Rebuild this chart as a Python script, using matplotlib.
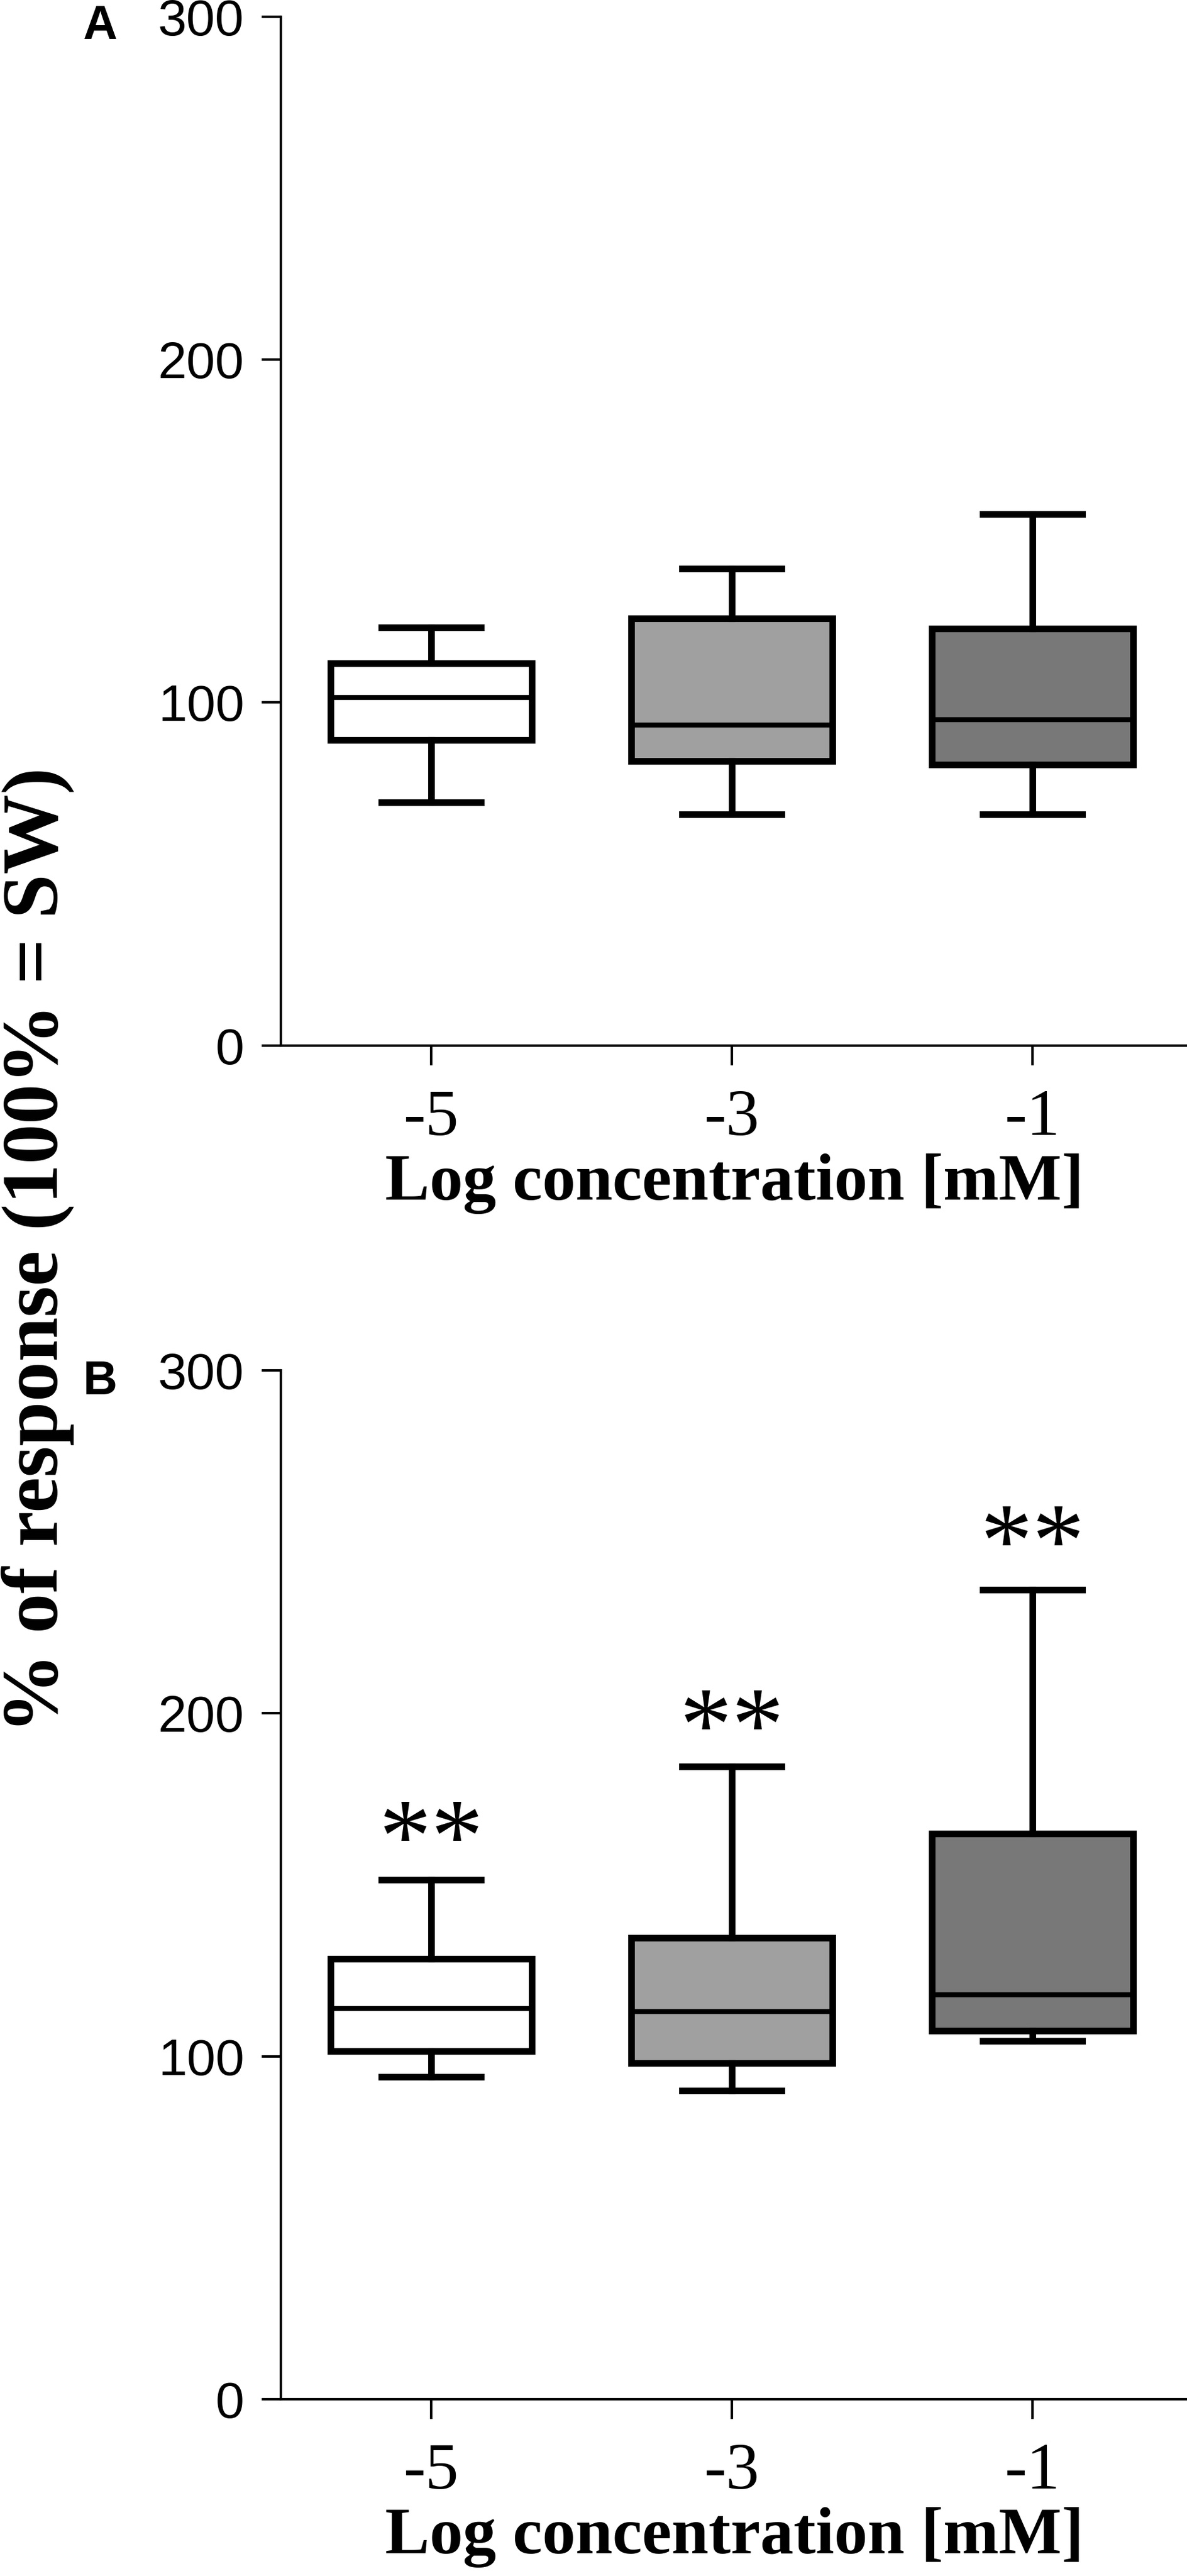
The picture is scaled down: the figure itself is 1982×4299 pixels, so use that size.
import matplotlib.pyplot as plt

# categories and fills
categories = ['-5', '-3', '-1']
fill_colors = ['#ffffff', '#a0a0a0', '#787878']

# panel A: box statistics (% of response)
a_whislo = [71, 67.5, 67.5]
a_q1 = [89, 83, 82]
a_med = [101.5, 93.5, 95]
a_q3 = [111.5, 124.5, 121.5]
a_whishi = [122, 139, 155]

# panel B: box statistics (% of response)
b_whislo = [94, 90, 104.5]
b_q1 = [101.5, 98, 107.5]
b_med = [114, 113, 118]
b_q3 = [128.5, 134.5, 165]
b_whishi = [151.5, 184.5, 236]

# significance marks in panel B (baseline of the text)
b_marks = ['**', '**', '**']
b_mark_y = [154, 186.5, 240]

yticks = [0, 100, 200, 300]
ytick_labels = ['0', '100', '200', '300']

W, H = 1983, 4299
fig = plt.figure(figsize=(W / 100, H / 100), dpi=100)


def make_stats(lo, q1, med, q3, hi):
    stats = []
    for i in range(len(lo)):
        stats.append({'whislo': lo[i], 'q1': q1[i], 'med': med[i],
                      'q3': q3[i], 'whishi': hi[i], 'fliers': []})
    return stats


def draw_panel(ax, stats, letter, letter_y):
    bp = ax.bxp(stats, positions=range(len(stats)), widths=0.67,
                capwidths=0.33, patch_artist=True, showfliers=False,
                boxprops=dict(linewidth=8, edgecolor='black'),
                whiskerprops=dict(linewidth=8, color='black'),
                capprops=dict(linewidth=8, color='black'),
                medianprops=dict(linewidth=6, color='black'))
    for patch, c in zip(bp['boxes'], fill_colors):
        patch.set_facecolor(c)

    ax.set_xlim(-0.5, 2.516)
    ax.set_ylim(0, 300)
    ax.spines['top'].set_visible(False)
    ax.spines['right'].set_visible(False)
    ax.spines['left'].set_linewidth(3)
    ax.spines['bottom'].set_linewidth(3)

    ax.set_yticks(yticks)
    ax.set_yticklabels(ytick_labels, fontfamily='Liberation Sans', fontsize=62)
    ax.set_xticks(range(len(categories)))
    ax.set_xticklabels(categories, fontfamily='Liberation Serif', fontsize=80)
    ax.tick_params(axis='y', length=23, width=3, pad=21)
    ax.tick_params(axis='x', length=24, width=3, pad=28)
    ax.set_xlabel('Log concentration [mM]', fontfamily='Liberation Serif',
                  fontweight='bold', fontsize=80, labelpad=6)

    fig.text(167 / W, letter_y, letter, ha='center', va='baseline',
             fontfamily='Liberation Sans', fontweight='bold', fontsize=57)


left = 469 / W
axA = fig.add_axes([left, 1 - 1745 / H, 1 - left, (1745 - 27.5) / H])
draw_panel(axA, make_stats(a_whislo, a_q1, a_med, a_q3, a_whishi),
           'A', 1 - 65 / H)

axB = fig.add_axes([left, 1 - 4004 / H, 1 - left, (4004 - 2287) / H])
draw_panel(axB, make_stats(b_whislo, b_q1, b_med, b_q3, b_whishi),
           'B', 1 - 2327 / H)
for i, (m, y) in enumerate(zip(b_marks, b_mark_y)):
    axB.text(i, y, m, ha='center', va='baseline',
             fontfamily='Liberation Serif', fontsize=126)

fig.text(63 / W, 1 - 2086 / H, '% of response (100% = SW)', rotation=90,
         ha='center', va='center', fontfamily='Liberation Serif',
         fontweight='bold', fontsize=96)

fig.savefig('out.png', dpi=100)
